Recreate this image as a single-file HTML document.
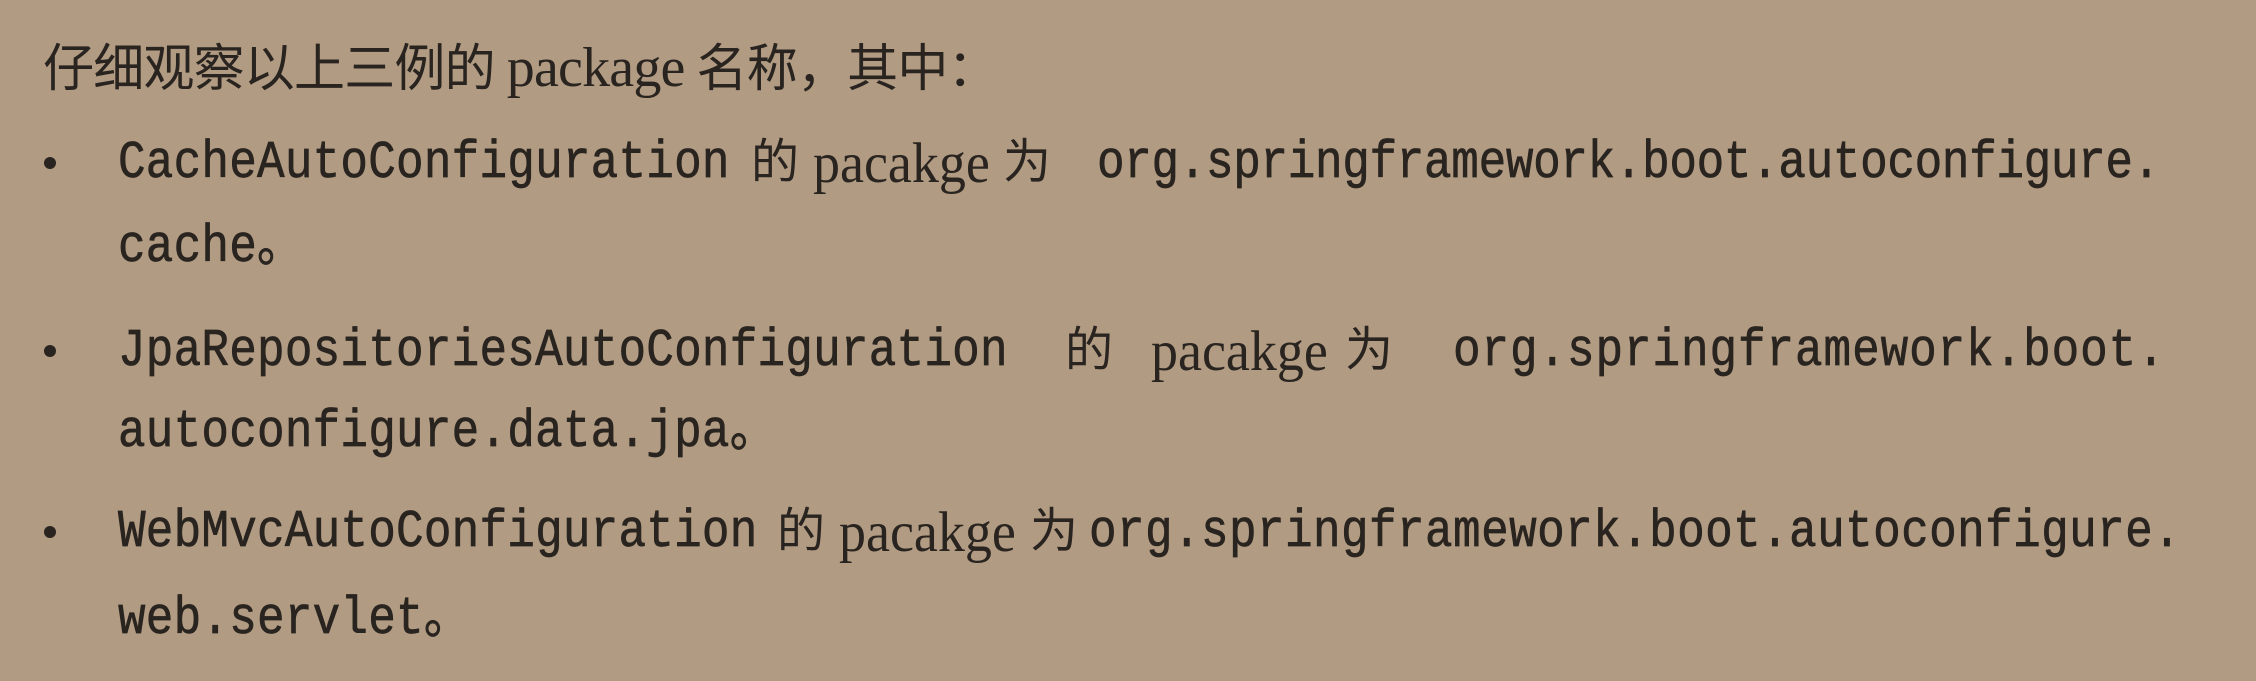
<!DOCTYPE html>
<html><head><meta charset="utf-8"><style>
html,body{margin:0;padding:0}
body{width:2256px;height:681px;background:#b19b83;position:relative;overflow:hidden;color:#29241f}
.s{position:absolute;white-space:nowrap;height:60px;line-height:60px}
.m{font-family:"Liberation Mono",monospace;font-size:46px;letter-spacing:0.2px;transform:scaleY(1.15);transform-origin:0 50%;-webkit-text-stroke:0.6px #29241f}
.o{letter-spacing:-0.35px}
.r{font-family:"Liberation Serif","Noto Serif CJK SC",serif;font-size:54px;transform:scaleY(1.05);transform-origin:0 50%}
.c{font-family:"Liberation Serif","Noto Sans CJK SC",sans-serif;font-size:48px}
.h{font-family:"Liberation Serif","Noto Sans CJK SC",sans-serif;font-size:51px;letter-spacing:-0.8px}
.b{position:absolute;width:12px;height:12px;border-radius:50%;background:#29241f;left:44px}
</style></head><body>
<div class="s h" style="left:43px;top:38px">仔细观察以上三例的 <span style="font-size:56px">package</span> 名称，其中：</div>

<div class="b" style="top:157px"></div>
<div class="s m" style="left:118px;top:133px">CacheAutoConfiguration</div>
<div class="s c" style="left:751px;top:133px">的</div>
<div class="s r" style="left:813px;top:133px">pacakge</div>
<div class="s c" style="left:1003px;top:133px">为</div>
<div class="s m o" style="left:1097px;top:133px">org.springframework.boot.autoconfigure.</div>
<div class="s m" style="left:118px;top:217px">cache。</div>

<div class="b" style="top:345px"></div>
<div class="s m" style="left:118px;top:321px">JpaRepositoriesAutoConfiguration</div>
<div class="s c" style="left:1065px;top:321px">的</div>
<div class="s r" style="left:1151px;top:321px">pacakge</div>
<div class="s c" style="left:1345px;top:321px">为</div>
<div class="s m" style="left:1453px;top:321px;letter-spacing:0.9px">org.springframework.boot.</div>
<div class="s m" style="left:118px;top:402px">autoconfigure.data.jpa。</div>

<div class="b" style="top:526px"></div>
<div class="s m" style="left:118px;top:502px">WebMvcAutoConfiguration</div>
<div class="s c" style="left:777px;top:502px">的</div>
<div class="s r" style="left:839px;top:502px">pacakge</div>
<div class="s c" style="left:1030px;top:502px">为</div>
<div class="s m" style="left:1089px;top:502px;letter-spacing:0.4px">org.springframework.boot.autoconfigure.</div>
<div class="s m" style="left:118px;top:589px">web.servlet。</div>
</body></html>
